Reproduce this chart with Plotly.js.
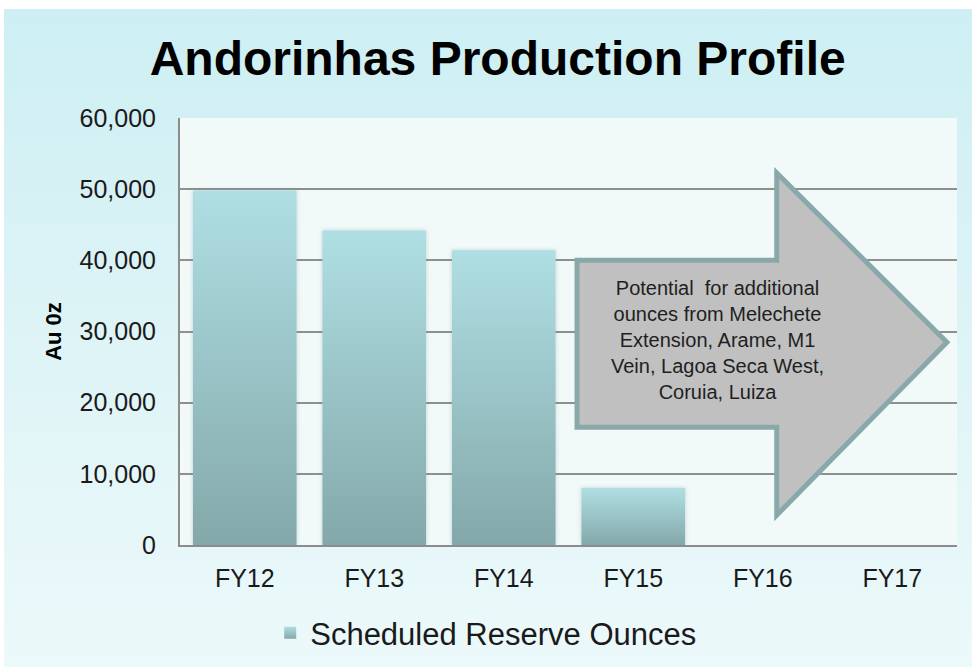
<!DOCTYPE html>
<html>
<head>
<meta charset="utf-8">
<script src="https://cdn.plot.ly/plotly-3.0.1.min.js"></script>
<style>
  html, body { margin: 0; padding: 0; background: #ffffff; width: 972px; height: 667px; overflow: hidden; }
  #bg { position: absolute; left: 4px; top: 9px; width: 968px; height: 658px;
        background: linear-gradient(to bottom, #cdeff3 0%, #dcf3f6 45%, #ecf9fa 100%); }
  #chart { position: absolute; left: 0; top: 0; width: 972px; height: 667px; }
</style>
</head>
<body>
<div id="bg"></div>
<div id="chart"></div>
<script>
// ---- data ----
const categories = ["FY12", "FY13", "FY14", "FY15", "FY16", "FY17"];
const reserveOunces = [49800, 44200, 41400, 8000, null, null];
const seriesName = "Scheduled Reserve Ounces";
const yTickVals = [0, 10000, 20000, 30000, 40000, 50000, 60000];
const chartTitle = "Andorinhas Production Profile";
const yTitle = "Au 0z";
const arrowText = "Potential  for additional<br>ounces from Melechete<br>Extension, Arame, M1<br>Vein, Lagoa Seca West,<br>Coruia, Luiza";

const FONT = '"Liberation Sans", Arial, Helvetica, sans-serif';

const trace = {
  type: 'bar',
  x: categories,
  y: reserveOunces,
  name: seriesName,
  marker: { color: '#9dc7cb', line: { width: 0 } },
  showlegend: true,
  hoverinfo: 'x+y'
};

// arrow geometry (paper coords)
const arrowPath = 'M0.511,0.667 L0.768,0.667 L0.768,0.871 L0.987,0.475 L0.768,0.070 L0.768,0.276 L0.511,0.276 Z';

const layout = {
  width: 972,
  height: 667,
  margin: { l: 180, r: 15, t: 118, b: 122 },
  paper_bgcolor: 'rgba(0,0,0,0)',
  plot_bgcolor: '#f1f9f9',
  bargap: 0.2,
  title: {
    text: '<b>' + chartTitle + '</b>',
    font: { family: FONT, size: 48, color: '#000000' },
    x: 0.512, xref: 'container', xanchor: 'center',
    y: 0.913, yref: 'container', yanchor: 'middle'
  },
  xaxis: {
    type: 'category',
    range: [-0.5, 5.5],
    showline: true, linecolor: '#8c8c8c', linewidth: 2,
    showgrid: false, zeroline: false,
    ticks: '',
    tickfont: { family: FONT, size: 25, color: '#1a1a1a' },
    ticklabelstandoff: 10
  },
  yaxis: {
    range: [0, 60000],
    tickvals: yTickVals,
    tickformat: ',',
    showline: true, linecolor: '#8c8c8c', linewidth: 2,
    showgrid: true, gridcolor: '#8f8f8f', gridwidth: 2,
    zeroline: false,
    ticks: '',
    tickfont: { family: FONT, size: 25, color: '#1a1a1a' },
    ticklabelstandoff: 17,
    title: { text: '<b>' + yTitle + '</b>', font: { family: FONT, size: 22, color: '#000000' }, standoff: 12 }
  },
  showlegend: true,
  legend: {
    orientation: 'h',
    xref: 'container', yref: 'container',
    x: 0.278, xanchor: 'left',
    y: 0.051, yanchor: 'middle',
    font: { family: FONT, size: 31, color: '#1a1a1a' },
    bgcolor: 'rgba(0,0,0,0)'
  },
  shapes: [{
    type: 'path', xref: 'paper', yref: 'paper',
    path: arrowPath,
    fillcolor: '#c0c0c0',
    line: { color: '#88a8aa', width: 5 },
    layer: 'above'
  }],
  annotations: [{
    xref: 'paper', yref: 'paper',
    x: 0.6924, y: 0.480, xanchor: 'center', yanchor: 'middle',
    text: arrowText, showarrow: false, align: 'center',
    font: { family: FONT, size: 20, color: '#1f1f1f' }
  }]
};

Plotly.newPlot('chart', [trace], layout, { displayModeBar: false, staticPlot: true }).then(function (gd) {
  const svg = gd.querySelector('svg.main-svg');
  const ns = 'http://www.w3.org/2000/svg';
  let defs = svg.querySelector('defs');
  if (!defs) { defs = document.createElementNS(ns, 'defs'); svg.insertBefore(defs, svg.firstChild); }
  const grad = document.createElementNS(ns, 'linearGradient');
  grad.setAttribute('id', 'barGrad');
  grad.setAttribute('x1', '0'); grad.setAttribute('y1', '0');
  grad.setAttribute('x2', '0'); grad.setAttribute('y2', '1');
  [['0%', '#afdfe3'], ['100%', '#84a8aa']].forEach(function (s) {
    const st = document.createElementNS(ns, 'stop');
    st.setAttribute('offset', s[0]); st.setAttribute('stop-color', s[1]);
    grad.appendChild(st);
  });
  defs.appendChild(grad);
  const filt = document.createElementNS(ns, 'filter');
  filt.setAttribute('id', 'barShadow');
  filt.setAttribute('x', '-10%'); filt.setAttribute('y', '-10%');
  filt.setAttribute('width', '120%'); filt.setAttribute('height', '120%');
  const ds = document.createElementNS(ns, 'feDropShadow');
  ds.setAttribute('dx', '0'); ds.setAttribute('dy', '0');
  ds.setAttribute('stdDeviation', '2'); ds.setAttribute('flood-color', '#6c8a8c');
  ds.setAttribute('flood-opacity', '0.35');
  filt.appendChild(ds);
  defs.appendChild(filt);
  gd.querySelectorAll('.trace.bars .point path').forEach(function (p) {
    p.style.fill = 'url(#barGrad)';
    p.setAttribute('filter', 'url(#barShadow)');
  });
  gd.querySelectorAll('.legend .legendpoints path').forEach(function (p) {
    p.style.fill = 'url(#barGrad)';
  });
});
</script>
</body>
</html>
